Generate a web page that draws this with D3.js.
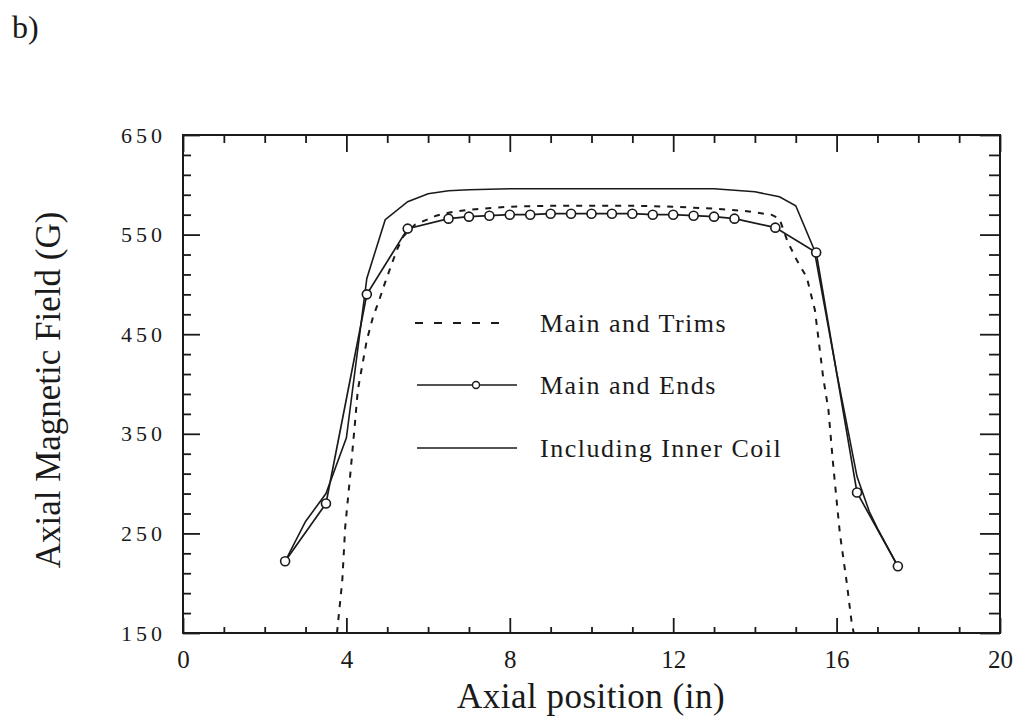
<!DOCTYPE html>
<html>
<head>
<meta charset="utf-8">
<script src="https://cdn.jsdelivr.net/npm/d3@7"></script>
<style>
  body { margin: 0; background: #fff; }
  text { font-family: "Liberation Serif", "DejaVu Serif", serif; fill: #1a1a1a; }
</style>
</head>
<body>
<div id="chart"></div>
<script>
// values
var trimsX = [3.77, 3.9, 3.97, 4.09, 4.21, 4.28, 4.5, 4.65, 4.8, 4.94, 5.07, 5.24, 5.39, 5.68, 6.2, 6.5, 7, 8, 9, 10, 11, 12, 13, 13.7, 14.4, 14.6, 14.8, 15.03, 15.27, 15.47, 15.67, 15.8, 15.92, 16.08, 16.25, 16.37, 16.42]
var trimsY = [150, 203, 256, 307, 361, 394, 444, 467, 484, 501, 516, 535, 548, 560, 569, 572, 575, 578, 579, 579, 579, 578, 576, 574, 570, 566, 543, 524, 507, 474, 407, 374, 317, 250, 200, 160, 150]

var endsX = [2.5, 3.5, 4.5, 5.5, 6.5, 7, 7.5, 8, 8.5, 9, 9.5, 10, 10.5, 11, 11.5, 12, 12.5, 13, 13.5, 14.5, 15.5, 16.5, 17.5]
var endsY = [222, 280, 490, 556, 566, 568, 569, 570, 570, 571, 571, 571, 571, 571, 570, 570, 569, 568, 566, 557, 532, 291, 217]

var innerX = [2.5, 3, 3.5, 4, 4.5, 4.95, 5.5, 6, 6.5, 7, 8, 9, 10, 11, 12, 13, 14, 14.6, 15, 15.45, 16, 16.5, 16.8, 17, 17.5]
var innerY = [222, 262, 290, 346, 506, 565, 583, 591, 594, 595, 596, 596, 596, 596, 596, 596, 593, 588, 579, 535, 412, 307, 272, 255, 217]

var xMajor = [0, 4, 8, 12, 16, 20]
var yMajor = [150, 250, 350, 450, 550, 650]

var legendNames = ["Main and Trims", "Main and Ends", "Including Inner Coil"]

var ink = "#1a1a1a"
var svg = d3.select("#chart").append("svg").attr("width", 1020).attr("height", 720)

var pLeft = 183, pRight = 1000, pTop = 135, pBottom = 633
var x = d3.scaleLinear().domain([0, 20]).range([pLeft, pRight])
var y = d3.scaleLinear().domain([150, 650]).range([pBottom, pTop])

function zip(xs, ys) {
    return xs.map(function(v, i) { return [v, ys[i]] })
}

// minor ticks first, then majors with labels
var xMinor = d3.range(0, 21).filter(function(v) { return v % 4 != 0 })
var yMinor = d3.range(150, 651, 20).filter(function(v) { return (v - 150) % 100 != 0 })

function styleAxis(g) {
    g.select(".domain").remove()
    g.selectAll("line").attr("stroke", ink).attr("stroke-width", 1.8)
}

svg.append("g").attr("transform", "translate(0," + pBottom + ")")
    .call(d3.axisBottom(x).tickValues(xMinor).tickSize(-6).tickFormat(""))
    .call(styleAxis)
svg.append("g").attr("transform", "translate(0," + pBottom + ")")
    .call(d3.axisBottom(x).tickValues(xMajor).tickSize(-15).tickPadding(17).tickFormat(d3.format("d")))
    .call(styleAxis)
    .selectAll("text").style("font-size", "25px").attr("fill", ink)

svg.append("g").attr("transform", "translate(0," + pTop + ")")
    .call(d3.axisTop(x).tickValues(xMinor).tickSize(-8).tickFormat(""))
    .call(styleAxis)
svg.append("g").attr("transform", "translate(0," + pTop + ")")
    .call(d3.axisTop(x).tickValues(xMajor).tickSize(-17).tickFormat(""))
    .call(styleAxis)

svg.append("g").attr("transform", "translate(" + pLeft + ",0)")
    .call(d3.axisLeft(y).tickValues(yMinor).tickSize(-8).tickFormat(""))
    .call(styleAxis)
svg.append("g").attr("transform", "translate(" + pLeft + ",0)")
    .call(d3.axisLeft(y).tickValues(yMajor).tickSize(-17).tickPadding(17).tickFormat(d3.format("d")))
    .call(styleAxis)
    .selectAll("text").style("font-size", "22px").style("letter-spacing", "4px").attr("fill", ink)

svg.append("g").attr("transform", "translate(" + pRight + ",0)")
    .call(d3.axisRight(y).tickValues(yMinor).tickSize(-11).tickFormat(""))
    .call(styleAxis)
svg.append("g").attr("transform", "translate(" + pRight + ",0)")
    .call(d3.axisRight(y).tickValues(yMajor).tickSize(-20).tickFormat(""))
    .call(styleAxis)

// frame
svg.append("rect").attr("x", pLeft).attr("y", pTop).attr("width", pRight - pLeft).attr("height", pBottom - pTop)
    .attr("fill", "none").attr("stroke", ink).attr("stroke-width", 2)

var line = d3.line().x(function(d) { return x(d[0]) }).y(function(d) { return y(d[1]) })

var plot = svg.append("g")
plot.append("path").datum(zip(trimsX, trimsY)).attr("d", line)
    .attr("fill", "none").attr("stroke", ink).attr("stroke-width", 2).attr("stroke-dasharray", "6,7")

plot.append("path").datum(zip(innerX, innerY)).attr("d", line)
    .attr("fill", "none").attr("stroke", ink).attr("stroke-width", 1.6)

plot.append("path").datum(zip(endsX, endsY)).attr("d", line)
    .attr("fill", "none").attr("stroke", ink).attr("stroke-width", 1.7)

plot.selectAll(".ends").data(zip(endsX, endsY)).enter().append("circle")
    .attr("class", "ends")
    .attr("cx", function(d) { return x(d[0]) })
    .attr("cy", function(d) { return y(d[1]) })
    .attr("r", 4.5)
    .attr("fill", "#fff").attr("stroke", ink).attr("stroke-width", 1.6)

// legend
var legendY = [323, 385, 448]
var lg = svg.append("g")
lg.append("line").attr("x1", 415).attr("x2", 507).attr("y1", legendY[0]).attr("y2", legendY[0])
    .attr("stroke", ink).attr("stroke-width", 1.8).attr("stroke-dasharray", "8,11")
lg.append("line").attr("x1", 417).attr("x2", 517).attr("y1", legendY[1]).attr("y2", legendY[1])
    .attr("stroke", ink).attr("stroke-width", 1.4)
lg.append("circle").attr("cx", 476).attr("cy", legendY[1]).attr("r", 3.5)
    .attr("fill", "#fff").attr("stroke", ink).attr("stroke-width", 1.4)
lg.append("line").attr("x1", 417).attr("x2", 517).attr("y1", legendY[2]).attr("y2", legendY[2])
    .attr("stroke", ink).attr("stroke-width", 1.4)
lg.selectAll(".lab").data(legendNames).enter().append("text")
    .attr("class", "lab")
    .attr("x", 540)
    .attr("y", function(d, i) { return legendY[i] + 9 })
    .style("font-size", "26px").style("letter-spacing", "1.5px")
    .text(function(d) { return d })

// titles
svg.append("text").attr("x", 591).attr("y", 708).attr("text-anchor", "middle")
    .style("font-size", "35px").style("letter-spacing", "0.5px").text("Axial position (in)")
svg.append("text").attr("transform", "translate(60,390) rotate(-90)").attr("text-anchor", "middle")
    .style("font-size", "35px").text("Axial Magnetic Field (G)")
svg.append("text").attr("x", 12).attr("y", 38).style("font-size", "32px").text("b)")
</script>
</body>
</html>
